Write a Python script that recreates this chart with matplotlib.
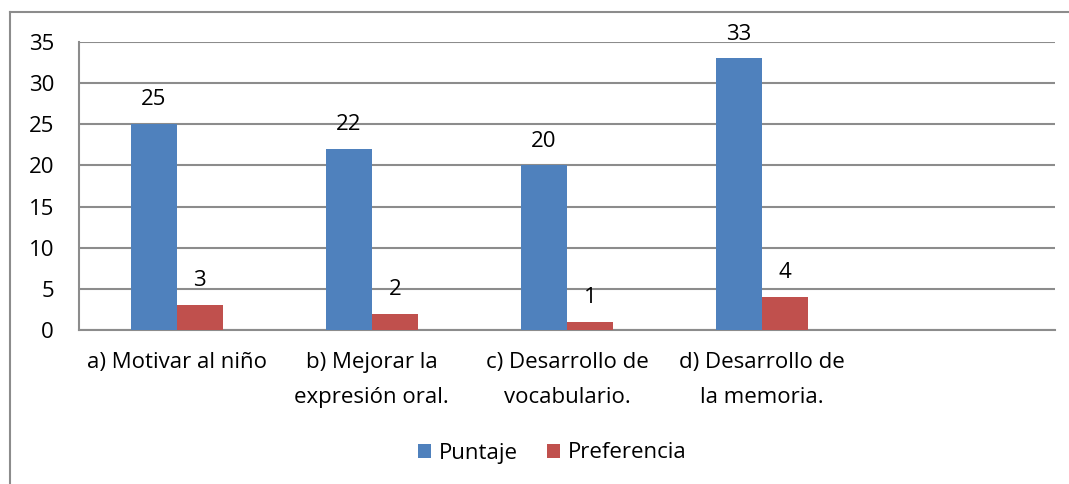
import matplotlib
matplotlib.use('Agg')
import matplotlib.pyplot as plt
import numpy as np
from matplotlib.lines import Line2D

plt.rcParams['font.family'] = ['Open Sans', 'DejaVu Sans']

categorias = ['a) Motivar al niño', 'b) Mejorar la\nexpresión oral.',
              'c) Desarrollo de\nvocabulario.', 'd) Desarrollo de\nla memoria.', '']
puntaje = [25, 22, 20, 33]
preferencia = [3, 2, 1, 4]

azul = '#4F81BD'
rojo = '#C0504D'
fs = 16

fig = plt.figure(figsize=(10.69, 4.84), dpi=100)
ax = fig.add_axes([79/1069, 1 - 330/484, (1055 - 79)/1069, (330 - 42)/484])

x = np.arange(len(puntaje))
w = 0.236
b1 = ax.bar(x - w/2, puntaje, w, color=azul, label='Puntaje', zorder=3)
b2 = ax.bar(x + w/2, preferencia, w, color=rojo, label='Preferencia', zorder=3)

for bars, vals in ((b1, puntaje), (b2, preferencia)):
    for r, v in zip(bars, vals):
        ax.annotate(str(v), (r.get_x() + r.get_width()/2, v), xytext=(0, 10),
                    textcoords='offset points', ha='center', va='bottom', fontsize=fs)

ax.set_xlim(-0.5, len(categorias) - 0.5)
ax.set_ylim(0, 35)
ax.set_yticks(range(0, 36, 5))
ax.set_xticks(range(len(categorias)))
ax.set_xticklabels(categorias, fontsize=fs, linespacing=1.85)
ax.tick_params(axis='y', labelsize=fs, length=0, pad=18)
ax.tick_params(axis='x', length=0, pad=16)
ax.grid(axis='y', color='#8c8c8c', linewidth=1.5, zorder=0)
for s in ('top', 'right'):
    ax.spines[s].set_visible(False)
for s in ('left', 'bottom'):
    ax.spines[s].set_color('#8c8c8c')
    ax.spines[s].set_linewidth(1.5)

fig.legend(loc='center', bbox_to_anchor=(552/1069, 1 - 453/484), ncol=2, frameon=False,
           fontsize=fs, handlelength=0.6, handleheight=0.6, handletextpad=0.35, columnspacing=1.3)

# marco exterior
fig.add_artist(Line2D([10/1069, 10/1069], [0, 1 - 12/484], transform=fig.transFigure, color='#8c8c8c', lw=1.5))
fig.add_artist(Line2D([10/1069, 1], [1 - 12/484, 1 - 12/484], transform=fig.transFigure, color='#8c8c8c', lw=1.5))

fig.savefig('out.png', dpi=100)
